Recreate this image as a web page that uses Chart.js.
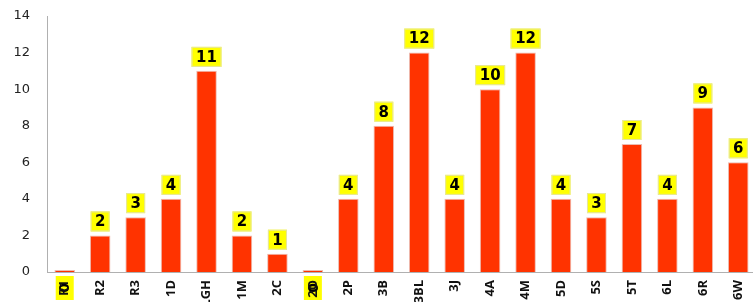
<!DOCTYPE html>
<html>
<head>
<meta charset="utf-8">
<script src="https://cdn.jsdelivr.net/npm/chart.js"></script>
<style>
  html, body { margin: 0; padding: 0; background: #fff; overflow: hidden; }
  #wrap { width: 760px; height: 302px; }
</style>
</head>
<body>
<div id="wrap"><canvas id="grafica"></canvas></div>
<script>
const categorias = ["R1", "R2", "R3", "1D", "LGH", "1M", "2C", "2O", "2P", "3B", "3BL", "3J", "4A", "4M", "5D", "5S", "5T", "6L", "6R", "6W"];
const valores = [0, 2, 3, 4, 11, 2, 1, 0, 4, 8, 12, 4, 10, 12, 4, 3, 7, 4, 9, 6];
const ticksY = [0, 2, 4, 6, 8, 10, 12, 14];

// cajas amarillas de los ceros, debajo del texto del eje
const cerosAbajo = {
  id: 'cerosAbajo',
  beforeDraw(chart) {
    const meta = chart.getDatasetMeta(0);
    const ctx = chart.ctx;
    ctx.save();
    ctx.font = 'bold 14px "DejaVu Sans"';
    ctx.textAlign = 'center';
    ctx.textBaseline = 'middle';
    meta.data.forEach((bar, i) => {
      if (valores[i] !== 0) return;
      ctx.save();
      ctx.translate(bar.x, chart.chartArea.bottom + 16);
      ctx.rotate(-Math.PI / 2);
      ctx.fillStyle = '#ffff00';
      ctx.fillRect(-12, -9, 24, 18);
      ctx.fillStyle = '#000';
      ctx.fillText('0', 0, 1);
      ctx.restore();
    });
    ctx.restore();
  }
};

// etiquetas amarillas encima de cada barra
const etiquetas = {
  id: 'etiquetas',
  afterDatasetsDraw(chart) {
    const ctx = chart.ctx;
    const meta = chart.getDatasetMeta(0);
    ctx.save();
    ctx.font = 'bold 15px "DejaVu Sans"';
    ctx.textAlign = 'center';
    ctx.textBaseline = 'middle';
    meta.data.forEach((bar, i) => {
      if (valores[i] === 0) return;
      const txt = String(valores[i]);
      const w = txt.length > 1 ? 30 : 19;
      const h = 20;
      const y = bar.y - 4 - h / 2;
      ctx.fillStyle = '#ffff00';
      ctx.fillRect(bar.x - w / 2, y - h / 2, w, h);
      ctx.strokeStyle = '#e6e6a0';
      ctx.lineWidth = 1;
      ctx.strokeRect(bar.x - w / 2 + 0.5, y - h / 2 + 0.5, w - 1, h - 1);
      ctx.fillStyle = '#000';
      ctx.fillText(txt, bar.x, y + 1);
    });
    ctx.restore();
  }
};

function relleno(context) {
  const chart = context.chart;
  if (!chart.chartArea) return '#ff3300';
  const bar = context.element;
  if (!bar || bar.y === undefined) return '#ff3300';
  const top = bar.y;
  const g = chart.ctx.createLinearGradient(0, top, 0, top + 6);
  g.addColorStop(0, '#ff9a80');
  g.addColorStop(0.5, '#ff4a1a');
  g.addColorStop(1, '#ff3300');
  return g;
}

const data = {
  labels: categorias,
  datasets: [{
    data: valores,
    backgroundColor: relleno,
    borderColor: 'rgba(200, 60, 30, 0.35)',
    borderWidth: 1,
    minBarLength: 2,
    barPercentage: 0.58,
    categoryPercentage: 1
  }]
};

const config = {
  type: 'bar',
  data: data,
  options: {
    responsive: true,
    maintainAspectRatio: false,
    animation: false,
    layout: { padding: { top: 16, right: 4, left: 0, bottom: 0 } },
    plugins: { legend: { display: false }, tooltip: { enabled: false } },
    scales: {
      x: {
        grid: { display: false, drawTicks: false },
        border: { display: true, color: '#b0b0b0' },
        ticks: {
          color: '#111',
          font: { family: '"Open Sans"', size: 13, weight: 'bold' },
          minRotation: 90,
          maxRotation: 90,
          autoSkip: false,
          padding: 8
        },
        afterFit(scale) {
          scale.height = 30;
          scale.paddingLeft = 0;
          scale.paddingRight = 0;
        }
      },
      y: {
        min: 0,
        max: 14,
        afterBuildTicks(scale) { scale.ticks = ticksY.map(v => ({ value: v })); },
        grid: { display: false, drawTicks: false },
        border: { display: true, color: '#b0b0b0' },
        ticks: {
          color: '#222',
          font: { family: '"DejaVu Sans"', size: 13 },
          padding: 17
        },
        afterFit(scale) {
          scale.width = 47;
          scale.paddingTop = 0;
          scale.paddingBottom = 0;
        }
      }
    }
  },
  plugins: [cerosAbajo, etiquetas]
};

const chart = new Chart(document.getElementById('grafica'), config);
</script>
</body>
</html>
